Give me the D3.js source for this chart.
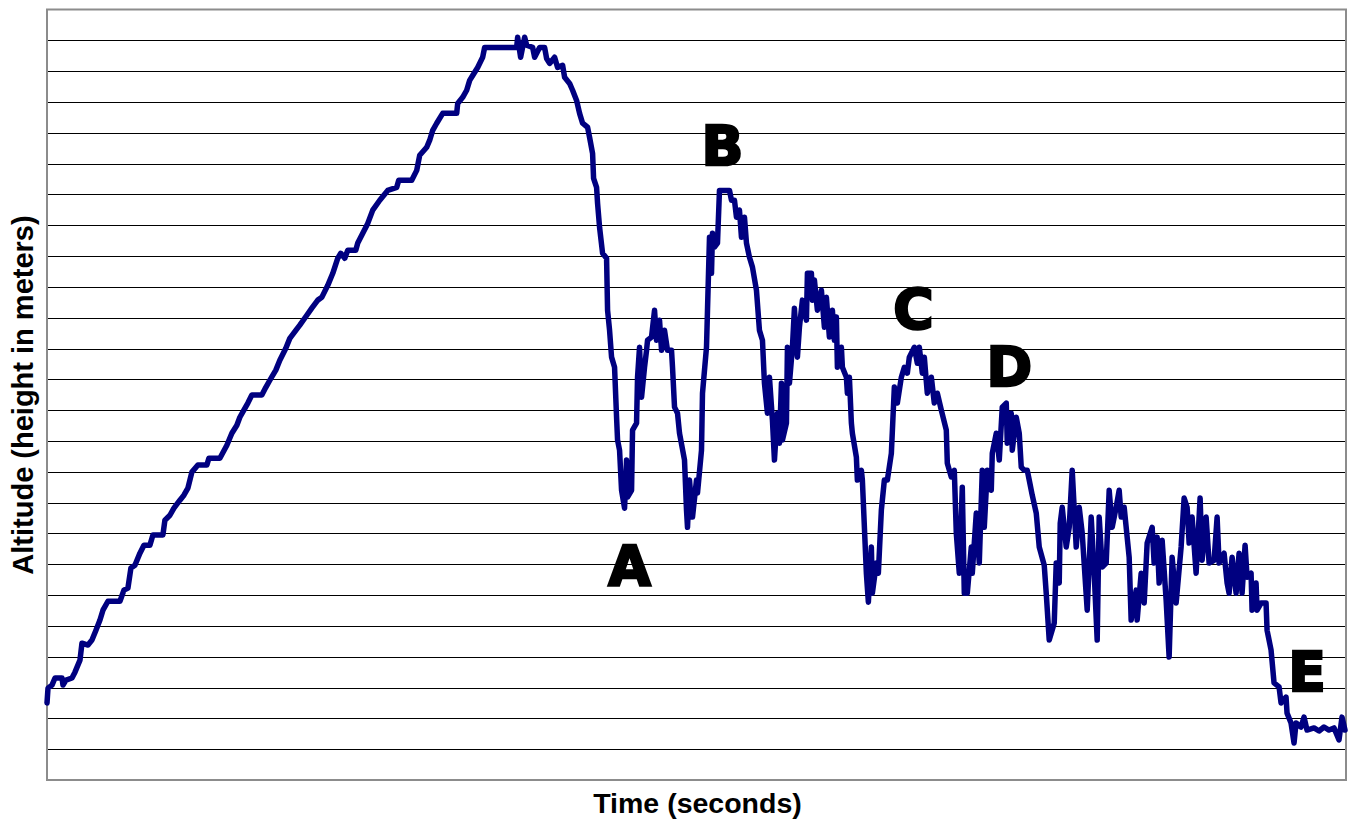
<!DOCTYPE html>
<html>
<head>
<meta charset="utf-8">
<script src="https://cdn.jsdelivr.net/npm/d3@7"></script>
<style>
  body { margin: 0; background: #fff; }
  svg { display: block; }
</style>
</head>
<body>
<div id="chart"></div>
<script>
// time (s) and altitude (m)
const timeSec = [0,0.5,2.5,4,7.5,8,9.5,12.5,14,16.5,17.5,20.5,22.5,24.5,26.5,28,30.5,36.5,38.5,40.5,
  42,44,46.5,48.5,51.5,53,58,59,61.5,63.5,66.5,68.5,70.5,72.5,75.5,80,81,86.5,90,92.5,
  95,96.5,99,100.5,102.5,107.5,109.5,111.5,114.5,116.5,119.5,121.5,124.5,126.5,130,132.5,135.5,137.5,140.5,143,
  145.5,147,149,150.5,154.5,155.5,158,160.5,163,166.5,170.5,175,176,182.5,185,186.5,190,191.5,193,195,
  198,205,205.5,208,210,211.5,213,215.5,218,219,235,235.5,237,239,240,243,244,246.5,249,250,
  251.5,254,255.5,258,259,261.5,263,265,266.5,268,270.5,271.5,273,273.5,275,275.5,276.5,278,280,280.5,
  281.5,282.5,284,285,285.5,286.5,287.5,289,290,290.5,292.5,293,295,295.5,296.5,297.5,299,300,300.5,302.5,
  304,305,306.5,307.5,309,310.5,312.5,313,314,315.5,316.5,319,320,320.5,321.5,323,325,325.5,327.5,328,
  330,330.5,331.5,332.5,333,334,335.5,336.5,341.5,342.5,344,345,346.5,347.5,349,350,351.5,353,355,356.5,
  358,359,360.5,361.5,363,364,365.5,366.5,367.5,368,370,370.5,371.5,373,374,375.5,376.5,378,380,380.5,
  382.5,383,384,385.5,387.5,389,390,391.5,393,394,395,395.5,397.5,398,400,400.5,401.5,402.5,403,405,
  405.5,407.5,408,410,411,412.5,413,415,416,417.5,419,420.5,422.5,424,425.5,427.5,429,430.5,431.5,434,
  435.5,436.5,438,439,440.5,442.5,444,445.5,447.5,450,450.5,452.5,454,455,456.5,458,459,460.5,462.5,463,
  465,466.5,468,469,470.5,472.5,473,475,476.5,478,480,480.5,482.5,483,485,486.5,487.5,489,490.5,491.5,
  493,495,496.5,499,500,501.5,504,505,506.5,507,508,510,511.5,513,515,516.5,518,520.5,522.5,524,
  525.5,526.5,528,530,531.5,533,535,536.5,537.5,539,541.5,542.5,545,545.5,547.5,549,550.5,553,554,555.5,
  556.5,558,560,561.5,563,565,567.5,569,570.5,571.5,573,575,577,578,580,581.5,584,585.5,586.5,589,
  590.5,591.5,593,595,596.5,598,599.5,600.5,602.5,603,605,605.5,607.5,610,610.5,612.5,614,616.5,617.5,620,
  620.5,622.5,624,625,627.5,629,630.5,634,636.5,639,641.5,644,646.5,648,649.5];

const altitudeM = [25.0,29.8,30.8,33.1,33.1,30.8,32.4,33.1,35.0,38.9,44.4,43.8,45.4,48.6,51.9,55.1,58.0,58.0,61.6,62.3,
  68.8,69.7,73.6,76.2,76.2,79.5,79.5,84.3,85.9,88.2,90.8,92.4,94.7,99.9,102.2,102.2,104.4,104.4,108.6,112.5,
  115.1,117.7,120.6,122.3,124.9,124.9,127.4,129.7,133.0,136.2,140.1,143.3,145.9,147.6,150.8,153.1,155.7,156.6,160.5,164.4,
  169.3,170.9,169.3,171.9,171.9,174.2,177.4,180.6,184.9,188.1,191.3,192.3,194.6,194.6,197.8,202.7,205.3,207.6,210.8,213.1,
  216.3,216.3,219.5,221.5,223.8,227.0,228.6,231.2,234.5,237.7,237.7,241.0,234.5,241.0,238.4,237.7,234.5,237.7,237.7,234.1,
  232.5,234.5,231.2,231.9,228.0,226.0,223.8,220.5,216.3,213.1,211.8,208.5,203.3,195.2,192.3,187.1,179.3,170.9,169.3,152.4,
  145.9,137.2,133.9,117.7,110.3,107.0,94.0,88.2,103.8,91.8,94.0,113.5,115.8,130.7,140.4,124.2,133.9,139.4,142.7,143.7,
  152.4,142.7,149.2,139.4,145.9,139.4,139.4,133.9,121.0,119.0,112.5,103.8,87.6,82.0,97.3,85.3,97.3,93.1,107.0,125.5,
  140.4,152.4,176.1,164.4,177.4,172.9,174.2,191.3,191.3,188.1,188.1,182.6,184.9,176.1,182.6,174.2,169.6,166.4,158.9,145.9,
  142.7,128.7,119.0,130.7,116.7,103.8,119.0,109.3,128.7,110.3,115.8,140.4,128.7,140.4,153.1,137.2,146.9,155.7,149.2,164.4,
  164.4,155.7,162.2,152.4,158.9,146.9,156.6,143.7,152.4,142.7,150.2,133.9,140.4,133.9,130.7,125.5,130.7,115.8,112.5,104.7,
  97.3,100.5,97.3,67.1,57.7,75.6,60.6,70.4,67.1,87.6,97.3,97.3,106.0,127.5,122.3,130.7,133.9,132.0,137.2,140.4,
  135.2,140.4,132.0,137.2,125.5,130.7,122.3,125.5,120.0,113.5,102.8,98.3,100.5,80.1,67.1,95.0,60.6,60.6,75.6,67.1,
  86.6,70.4,100.5,82.0,100.5,94.0,106.0,112.5,103.8,121.0,122.3,109.3,119.0,107.0,117.7,112.5,101.5,100.5,100.5,97.3,
  92.4,86.6,75.6,69.7,60.6,45.4,50.9,70.4,63.9,83.3,88.5,75.6,82.0,100.5,75.6,88.5,80.1,55.1,85.3,67.1,
  45.4,85.3,69.1,70.4,94.0,82.0,88.5,94.0,85.3,88.5,72.3,51.9,61.6,51.9,67.1,57.4,76.9,82.0,70.4,78.8,
  63.9,77.8,58.4,39.9,72.3,57.4,75.6,91.5,88.5,76.9,85.3,67.1,91.5,71.3,85.3,70.4,71.3,85.3,70.4,73.6,
  63.9,60.6,72.3,60.6,73.6,60.6,76.2,65.8,67.1,55.1,63.9,55.1,57.4,57.4,48.6,42.2,31.5,30.2,25.0,26.9,
  21.7,18.5,12.0,18.5,17.2,20.4,16.2,16.9,15.9,17.2,16.2,16.9,13.0,20.4,16.2];

const gridValues = d3.range(10, 250, 10);

const labelText = ["A", "B", "C", "D", "E"];
const labelTime = [291.5, 338, 433.5, 481.5, 630.5];
const labelAlt = [63.3, 199.5, 146.6, 127.8, 28.8];

const W = 1349, H = 819;
const margin = { top: 9.5, right: 3, bottom: 39, left: 47 };
const width = W - margin.left - margin.right;
const height = H - margin.top - margin.bottom;

const svg = d3.select("#chart").append("svg")
  .attr("width", W).attr("height", H);

const g = svg.append("g")
  .attr("transform", "translate(" + margin.left + "," + margin.top + ")");

const x = d3.scaleLinear().domain([0, 650]).range([0, width]);
const y = d3.scaleLinear().domain([0, 250]).range([height, 0]);

// horizontal gridlines, no tick labels
g.append("g")
  .attr("class", "grid")
  .call(d3.axisLeft(y).tickValues(gridValues).tickSize(-width).tickFormat(""))
  .call(s => s.select(".domain").remove())
  .call(s => s.selectAll(".tick line").attr("stroke", "#000").attr("stroke-width", 1).attr("shape-rendering", "crispEdges"));

// plot frame
g.append("rect")
  .attr("width", width).attr("height", height)
  .attr("fill", "none")
  .attr("stroke", "#8c8c8c")
  .attr("stroke-width", 2);

const data = timeSec.map((t, i) => ({ t: t, alt: altitudeM[i] }));

const line = d3.line()
  .x(d => x(d.t))
  .y(d => y(d.alt));

g.append("path")
  .datum(data)
  .attr("d", line)
  .attr("fill", "none")
  .attr("stroke", "#000080")
  .attr("stroke-width", 5.5)
  .attr("stroke-linejoin", "round")
  .attr("stroke-linecap", "round");

// point labels
g.selectAll(".pt-label")
  .data(labelText)
  .enter()
  .append("text")
  .attr("class", "pt-label")
  .attr("x", (d, i) => x(labelTime[i]))
  .attr("y", (d, i) => y(labelAlt[i]))
  .attr("text-anchor", "middle")
  .style("font-family", "'DejaVu Sans', sans-serif")
  .style("font-weight", "bold")
  .style("font-size", "55px")
  .attr("fill", "#000")
  .attr("stroke", "#000")
  .attr("stroke-width", 2.5)
  .text(d => d);

// axis titles
svg.append("text")
  .attr("x", margin.left + width / 2 + 1)
  .attr("y", 813)
  .attr("text-anchor", "middle")
  .style("font-family", "'Liberation Sans', Arial, sans-serif")
  .style("font-weight", "bold")
  .style("font-size", "28.5px")
  .text("Time (seconds)");

svg.append("text")
  .attr("transform", "translate(33," + 395 + ") rotate(-90)")
  .attr("text-anchor", "middle")
  .style("font-family", "'Liberation Sans', Arial, sans-serif")
  .style("font-weight", "bold")
  .style("font-size", "29px")
  .text("Altitude (height in meters)");
</script>
</body>
</html>
